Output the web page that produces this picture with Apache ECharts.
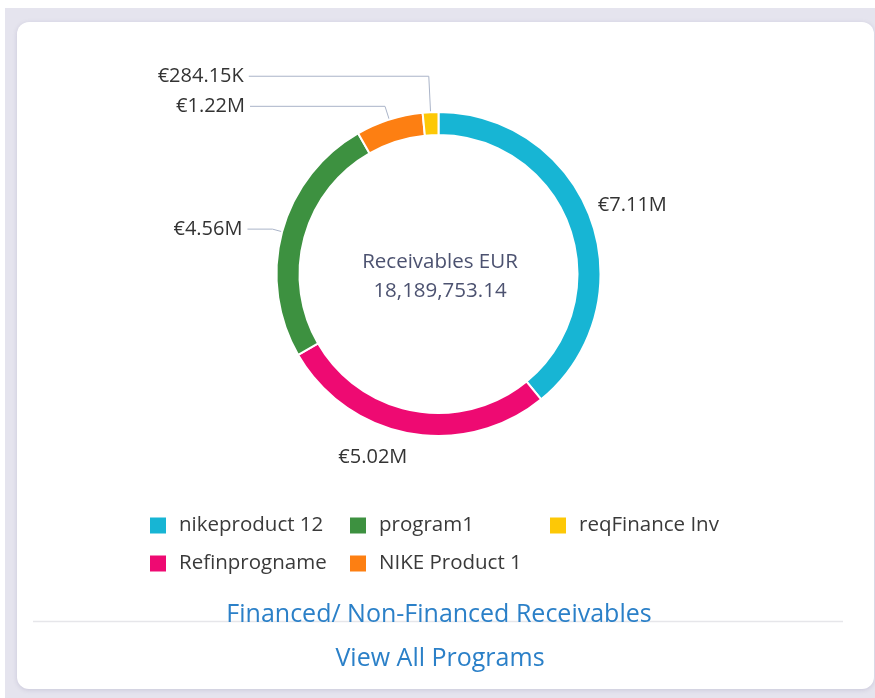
<!DOCTYPE html>
<html>
<head>
<meta charset="utf-8">
<script src="https://cdn.jsdelivr.net/npm/echarts@6/dist/echarts.min.js"></script>
<style>
  html, body { margin: 0; padding: 0; background: #ffffff; }
  #frame { position: absolute; left: 5px; top: 8px; width: 870px; height: 690px; background: #e5e4ee; }
  #card { position: absolute; left: 17px; top: 22px; width: 857px; height: 667px; background: #ffffff; border-radius: 12px; box-shadow: 0 1px 4px rgba(120,115,160,0.25); }
  #chart { position: absolute; left: 0; top: 0; width: 875px; height: 698px; }
</style>
</head>
<body>
<div id="frame"></div>
<div id="card"></div>
<div id="chart"></div>
<script>
const categories = ['nikeproduct 12', 'Refinprogname', 'program1', 'NIKE Product 1', 'reqFinance Inv'];
const values = [7110000, 5020000, 4560000, 1220000, 284150];
const colors = ['#17b5d4', '#ee0a72', '#3d9140', '#fd7f12', '#fdc806'];
const centerTitle = 'Receivables EUR';
const centerTotal = '18,189,753.14';
const footerTitle = 'Financed/ Non-Financed Receivables';
const footerLink = 'View All Programs';

function fmt(v) {
  if (v >= 1e6) return '€' + (v / 1e6).toFixed(2) + 'M';
  return '€' + (v / 1e3).toFixed(2) + 'K';
}

// label styling per slice (not data)
const showLine = [false, false, true, true, true];
const lineLen = [4, 6, 10, 14, 36];
const lineLen2 = [4, 4, 25, 135, 180];
const labelShift = [[-6, -13], [8, 18], [0, 0], [0, 0], [0, 0]];

const data = categories.map((name, i) => ({
  name: name,
  value: values[i],
  itemStyle: { color: colors[i] },
  labelLine: { show: showLine[i], length: lineLen[i], length2: lineLen2[i] }
}));

const chart = echarts.init(document.getElementById('chart'), null, { renderer: 'canvas' });
const legendText = { fontFamily: 'Open Sans', fontSize: 20.5, lineHeight: 21, color: '#3a3a3a', padding: [0, 0, 0, 7] };
const legendCommon = {
  orient: 'vertical', icon: 'rect', itemWidth: 18, itemHeight: 18, itemGap: 17, padding: 0,
  textStyle: legendText, selectedMode: false, top: 515
};
chart.setOption({
  animation: false,
  backgroundColor: 'transparent',
  color: colors,
  title: [{
    text: centerTitle + '\n' + centerTotal,
    left: 435, top: 243, textAlign: 'center',
    textStyle: { fontFamily: 'Open Sans', fontSize: 20.5, fontWeight: 'normal', color: '#4c5270', lineHeight: 29 }
  }, {
    text: footerTitle, left: 434, top: 597, textAlign: 'center',
    textStyle: { fontFamily: 'Open Sans', fontSize: 25, fontWeight: 'normal', color: '#2b80c8' }
  }, {
    text: footerLink, left: 435, top: 641, textAlign: 'center',
    textStyle: { fontFamily: 'Open Sans', fontSize: 25, fontWeight: 'normal', color: '#2b80c8' }
  }],
  graphic: [{
    type: 'line', z: -1,
    shape: { x1: 33, y1: 621.5, x2: 843, y2: 621.5 },
    style: { stroke: '#e6e6ea', lineWidth: 1.5 }
  }],
  legend: [
    Object.assign({ left: 148, data: [categories[0], categories[1]] }, legendCommon),
    Object.assign({ left: 348, data: [categories[2], categories[3]] }, legendCommon),
    Object.assign({ left: 548, data: [categories[4]] }, legendCommon)
  ],
  series: [{
    type: 'pie',
    center: [438.5, 274],
    radius: [139, 162],
    startAngle: 90,
    clockwise: true,
    avoidLabelOverlap: true,
    itemStyle: { borderColor: '#ffffff', borderWidth: 2 },
    label: {
      show: true, position: 'outside',
      formatter: p => fmt(p.value),
      fontFamily: 'Open Sans', fontSize: 20, color: '#333333',
      distanceToLabelLine: 5
    },
    labelLine: { lineStyle: { color: '#aab4c8', width: 1 }, smooth: false },
    labelLayout: function (p) {
      const s = labelShift[p.dataIndex];
      if (!s || (s[0] === 0 && s[1] === 0) || showLine[p.dataIndex]) return {};
      return { dx: s[0], dy: s[1] };
    },
    emphasis: { disabled: true },
    data: data
  }]
});
</script>
</body>
</html>
